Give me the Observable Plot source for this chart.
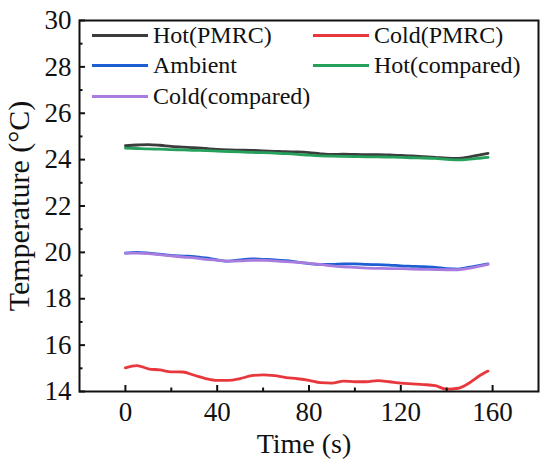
<!DOCTYPE html>
<html>
<head>
<meta charset="utf-8">
<script src="https://cdn.jsdelivr.net/npm/d3@7"></script>
<script src="https://cdn.jsdelivr.net/npm/@observablehq/plot@0.6"></script>
<style>
  html, body { margin: 0; padding: 0; background: #fff; overflow: hidden; }
  #wrap { position: relative; width: 550px; height: 467px; font-family: "Liberation Serif", "Times New Roman", Times, "DejaVu Serif", "Noto Serif", serif; }
  #legend { position: absolute; left: 92px; top: 20px; display: grid; grid-template-columns: 221px auto; row-gap: 0; }
  .item { display: flex; align-items: center; height: 30.5px; font-size: 24px; color: #111; white-space: nowrap; }
  .swatch { width: 56px; height: 3px; margin-right: 5px; }
</style>
</head>
<body>
<div id="wrap"><div id="legend"></div></div>
<script>
const seriesNames = ["Hot(PMRC)", "Cold(PMRC)", "Ambient", "Hot(compared)", "Cold(compared)"];
const seriesColors = ["#3c3c3c", "#e8383d", "#1c5fd2", "#25a15c", "#a97de0"];

const time = [0,5,10,15,20,25,30,35,40,45,50,55,60,65,70,75,80,85,90,95,100,105,110,115,120,125,130,135,140,145,150,155,158];

const hotPMRC = [24.60,24.63,24.65,24.62,24.57,24.54,24.52,24.48,24.44,24.42,24.41,24.40,24.38,24.36,24.34,24.33,24.30,24.25,24.22,24.24,24.22,24.21,24.21,24.20,24.18,24.16,24.13,24.10,24.06,24.05,24.12,24.22,24.27];
const coldPMRC = [15.02,15.12,14.98,14.93,14.85,14.84,14.70,14.56,14.48,14.48,14.56,14.68,14.72,14.68,14.60,14.55,14.48,14.38,14.36,14.45,14.42,14.42,14.47,14.42,14.36,14.33,14.30,14.25,14.10,14.14,14.38,14.72,14.88];
const ambient = [19.97,20.00,19.97,19.92,19.87,19.84,19.82,19.76,19.68,19.62,19.68,19.72,19.70,19.68,19.64,19.58,19.52,19.48,19.48,19.50,19.50,19.48,19.47,19.45,19.42,19.40,19.38,19.35,19.30,19.28,19.36,19.45,19.50];
const hotCompared = [24.50,24.48,24.46,24.45,24.43,24.42,24.40,24.39,24.37,24.35,24.33,24.31,24.30,24.28,24.26,24.23,24.19,24.16,24.15,24.14,24.13,24.12,24.12,24.11,24.10,24.08,24.07,24.05,24.01,23.99,24.02,24.07,24.10];
const coldCompared = [19.97,19.97,19.95,19.90,19.85,19.80,19.76,19.70,19.66,19.62,19.63,19.66,19.66,19.63,19.60,19.57,19.53,19.48,19.42,19.38,19.35,19.32,19.31,19.30,19.30,19.28,19.27,19.26,19.25,19.25,19.32,19.42,19.48];

const xMajor = [0,40,80,120,160];
const xMinor = [20,60,100,140];
const yMajor = [14,16,18,20,22,24,26,28,30];
const yMinor = [15,17,19,21,23,25,27,29];

const seriesValues = [hotPMRC, coldPMRC, ambient, hotCompared, coldCompared];
const data = seriesNames.flatMap((name, i) => time.map((t, j) => ({t, v: seriesValues[i][j], s: name})));

const font = "'Liberation Serif', 'Times New Roman', Times, 'DejaVu Serif', 'Noto Serif', serif";

const chart = Plot.plot({
  width: 550,
  height: 467,
  marginLeft: 79,
  marginRight: 12,
  marginTop: 20,
  marginBottom: 76,
  style: {fontFamily: font, background: "white", color: "#111"},
  x: {domain: [-20, 180]},
  y: {domain: [14, 30]},
  color: {domain: seriesNames, range: seriesColors},
  marks: [
    Plot.line(data, {x: "t", y: "v", stroke: "s", strokeWidth: 2.8, curve: "monotone-x"}),
    Plot.frame({stroke: "#111", strokeWidth: 2}),
    Plot.axisX({ticks: xMajor, tickSize: 0, tickPadding: 10, fontSize: 27, fontFamily: font, label: null, tickFormat: d => String(d)}),
    Plot.axisX({ticks: xMajor, tickSize: -6, strokeWidth: 2, fill: "none", label: null}),
    Plot.axisX({ticks: xMinor, tickSize: -3.5, strokeWidth: 2, fill: "none", label: null}),
    Plot.axisY({ticks: yMajor, tickSize: 0, tickPadding: 8, fontSize: 27, fontFamily: font, label: null, tickFormat: d => String(d)}),
    Plot.axisY({ticks: yMajor, tickSize: -6, strokeWidth: 2, fill: "none", label: null}),
    Plot.axisY({ticks: yMinor, tickSize: -3.5, strokeWidth: 2, fill: "none", label: null}),
    Plot.text(["Time (s)"], {frameAnchor: "bottom", textAnchor: "middle", dy: 42, dx: -5, lineAnchor: "top", fontSize: 28, fontFamily: font, fill: "#111"}),
    Plot.text(["Temperature (°C)"], {frameAnchor: "left", textAnchor: "middle", rotate: -90, dx: -72, lineAnchor: "top", fontSize: 30, fontFamily: font, fill: "#111"})
  ]
});

document.getElementById("wrap").prepend(chart);

const legend = document.getElementById("legend");
const order = [0, 1, 2, 3, 4];
order.forEach(i => {
  const item = document.createElement("div");
  item.className = "item";
  const sw = document.createElement("span");
  sw.className = "swatch";
  sw.style.background = seriesColors[i];
  const label = document.createElement("span");
  label.textContent = seriesNames[i];
  item.appendChild(sw);
  item.appendChild(label);
  legend.appendChild(item);
});
</script>
</body>
</html>
